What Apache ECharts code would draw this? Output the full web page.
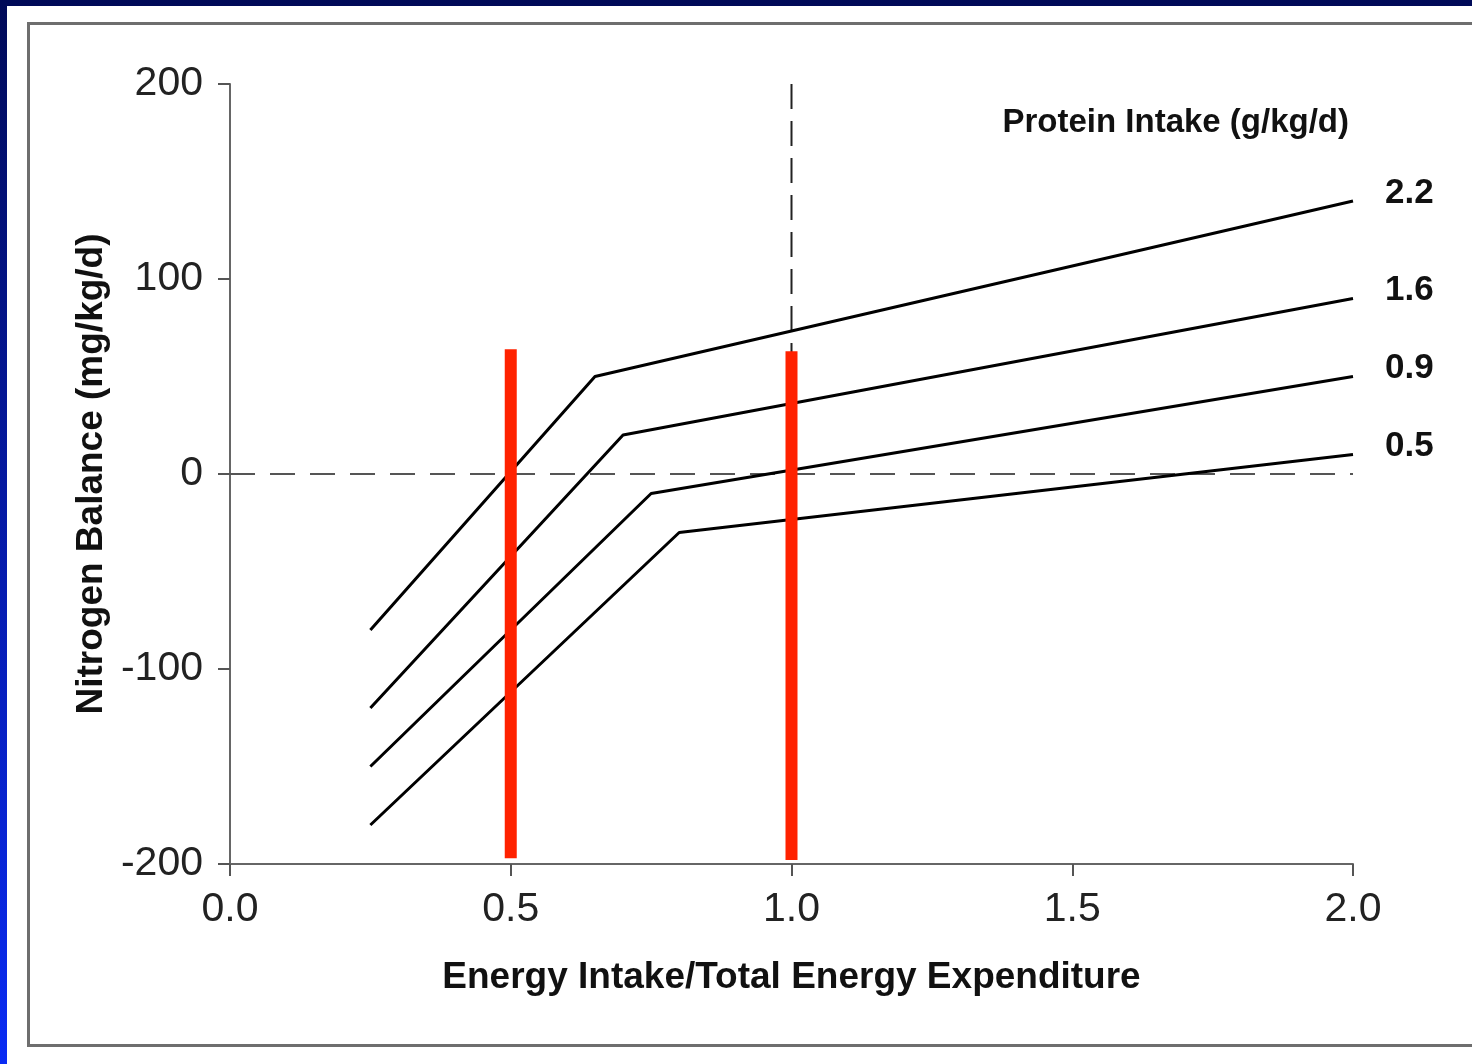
<!DOCTYPE html>
<html>
<head>
<meta charset="utf-8">
<script src="https://cdn.jsdelivr.net/npm/echarts@6/dist/echarts.min.js"></script>
<style>
  html, body { margin: 0; padding: 0; }
  body { width: 1472px; height: 1064px; overflow: hidden; position: relative;
         background: linear-gradient(180deg, #000a58 0%, #061cb0 55%, #0a2cf4 100%); }
  #panel { position: absolute; left: 7px; top: 6px; right: 0; bottom: 0; background: #fff; }
  #frame { position: absolute; left: 27px; top: 22px; width: 1460px; height: 1019px;
           border: 3px solid #6e6e6e; box-sizing: content-box; }
  #chart { position: absolute; left: 0; top: 0; width: 1472px; height: 1064px; }
</style>
</head>
<body>
<div id="panel"></div>
<div id="frame"></div>
<div id="chart"></div>
<script>
// ---- data ----
const proteinLevels = ['2.2', '1.6', '0.9', '0.5'];
const startX = 0.25;
const endX = 2.0;
const kinkX = [0.65, 0.70, 0.75, 0.80];
const balanceStart = [-80, -120, -150, -180];
const balanceKink = [50, 20, -10, -30];
const balanceEnd = [140, 90, 50, 10];

const redBarX = [0.5, 1.0];
const redBarTop = [64, 63];
const redBarBottom = [-197, -198];

const xTicks = [0, 0.5, 1.0, 1.5, 2.0];
const yTicks = [-200, -100, 0, 100, 200];

const FONT = '"Liberation Sans", Arial, Helvetica, sans-serif';

const lineSeries = proteinLevels.map((name, i) => ({
  type: 'line',
  name: name,
  data: [
    [startX, balanceStart[i]],
    [kinkX[i], balanceKink[i]],
    [endX, balanceEnd[i]]
  ],
  symbol: 'none',
  lineStyle: { color: '#000', width: 3 },
  z: 3,
  endLabel: {
    show: true,
    formatter: name,
    distance: 32,
    offset: [0, -8],
    color: '#111',
    fontFamily: FONT,
    fontWeight: 'bold',
    fontSize: 35
  },
  silent: true,
  animation: false
}));

const redSeries = redBarX.map((x, i) => ({
  type: 'line',
  data: [[x, redBarBottom[i]], [x, redBarTop[i]]],
  symbol: 'none',
  lineStyle: { color: '#ff2200', width: 12, cap: 'butt' },
  z: 5,
  silent: true,
  animation: false
}));

const refSeries = [
  {
    type: 'line',
    data: [[xTicks[0], 0], [xTicks[xTicks.length - 1], 0]],
    symbol: 'none',
    lineStyle: { color: '#555', width: 2, type: [25, 15] },
    z: 2, silent: true, animation: false
  },
  {
    type: 'line',
    data: [[1.0, yTicks[yTicks.length - 1]], [1.0, 0]],
    symbol: 'none',
    lineStyle: { color: '#222', width: 2, type: [25, 12] },
    z: 2, silent: true, animation: false
  }
];

const chart = echarts.init(document.getElementById('chart'), null, { renderer: 'canvas' });
chart.setOption({
  backgroundColor: 'transparent',
  animation: false,
  title: {
    text: 'Protein Intake (g/kg/d)',
    right: 118,
    top: 101,
    textStyle: { fontFamily: FONT, fontWeight: 'bold', fontSize: 33, color: '#111' }
  },
  grid: { left: 230, right: 119, top: 84, bottom: 200 },
  xAxis: {
    type: 'value',
    min: xTicks[0], max: xTicks[xTicks.length - 1], interval: 0.5,
    name: 'Energy Intake/Total Energy Expenditure',
    nameLocation: 'middle',
    nameGap: 95,
    nameTextStyle: { fontFamily: FONT, fontWeight: 'bold', fontSize: 37, color: '#111' },
    axisLine: { show: true, onZero: false, lineStyle: { color: '#666', width: 2 } },
    axisTick: { show: true, length: 12, lineStyle: { color: '#555', width: 2 } },
    axisLabel: { margin: 25, fontFamily: FONT, fontSize: 41, color: '#222',
                 formatter: v => v.toFixed(1) },
    splitLine: { show: false }
  },
  yAxis: {
    type: 'value',
    min: yTicks[0], max: yTicks[yTicks.length - 1], interval: 100,
    name: 'Nitrogen Balance (mg/kg/d)',
    nameLocation: 'middle',
    nameGap: 112,
    nameRotate: 90,
    nameTextStyle: { fontFamily: FONT, fontWeight: 'bold', fontSize: 37, color: '#111' },
    axisLine: { show: true, onZero: false, lineStyle: { color: '#666', width: 2 } },
    axisTick: { show: true, length: 12, lineStyle: { color: '#555', width: 2 } },
    axisLabel: { margin: 27, fontFamily: FONT, fontSize: 41, color: '#222' },
    splitLine: { show: false }
  },
  series: [...refSeries, ...lineSeries, ...redSeries]
});
</script>
</body>
</html>
